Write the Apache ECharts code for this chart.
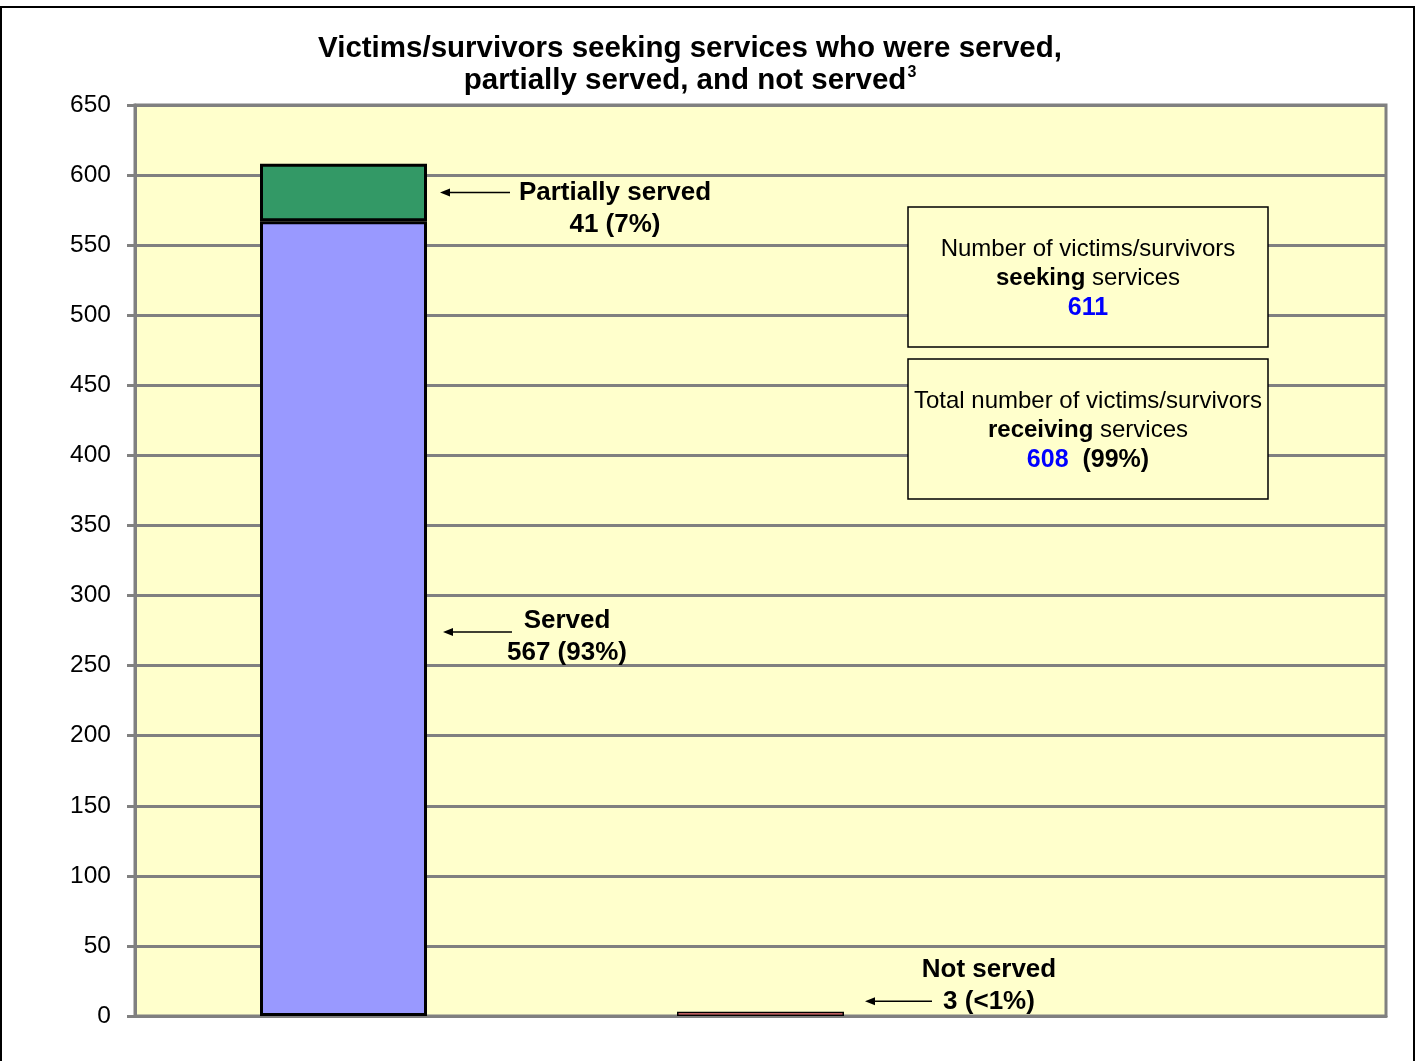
<!DOCTYPE html>
<html>
<head>
<meta charset="utf-8">
<script src="https://cdn.jsdelivr.net/npm/echarts@6/dist/echarts.min.js"></script>
<style>
  html, body { margin: 0; padding: 0; background: #fff; }
  #chart { width: 1416px; height: 1061px; }
</style>
</head>
<body>
<div id="chart"></div>
<script>
// categories on the x axis (third slot is empty, like the original)
const categories = ['Seeking services', 'Not served', ''];
const servedValues = [567, '-', '-'];
const partialValues = [41, '-', '-'];
const notServedValues = ['-', 3, '-'];

const yMin = 0;
const yMax = 650;
const yStep = 50;

// callouts: category index, value the arrow points at, two text lines
const noteCats = [0, 0, 1];
const noteValues = [587.5, 274, 10.5];
const noteLines = [
  ['Partially served', '41 (7%)'],
  ['Served', '567 (93%)'],
  ['Not served', '3 (<1%)']
];

const seekingTotal = 611;
const receivingTotal = 608;
const receivingPct = '99%';

const FONT = '"Liberation Sans", Arial, sans-serif';
const BAR_W = 167;

const chart = echarts.init(document.getElementById('chart'));

const barBorder = { borderColor: '#000', borderWidth: 3 };

var option = {
  animation: false,
  backgroundColor: '#fff',
  title: {
    text: 'Victims/survivors seeking services who were served,\npartially served, and not served{sup|3}',
    left: 690,
    textAlign: 'center',
    top: 33,
    padding: 0,
    textStyle: {
      fontFamily: FONT,
      fontSize: 29.5,
      fontWeight: 'bold',
      color: '#000',
      lineHeight: 32,
      rich: {
        sup: {
          fontFamily: FONT,
          fontSize: 16,
          fontWeight: 'bold',
          color: '#000',
          verticalAlign: 'top',
          padding: [0, 0, 10, 1]
        }
      }
    }
  },
  grid: {
    left: 135,
    right: 30,
    top: 105,
    bottom: 45,
    show: true,
    backgroundColor: '#FFFFCC',
    borderColor: '#808080',
    borderWidth: 3
  },
  xAxis: {
    type: 'category',
    data: categories,
    axisLine: { show: true, lineStyle: { color: '#808080', width: 3 } },
    axisTick: { show: false },
    axisLabel: { show: false },
    splitLine: { show: false }
  },
  yAxis: {
    type: 'value',
    min: yMin,
    max: yMax,
    interval: yStep,
    axisLine: { show: true, lineStyle: { color: '#808080', width: 3 } },
    axisTick: { show: true, length: 8, lineStyle: { color: '#808080', width: 3 } },
    axisLabel: { fontFamily: FONT, fontSize: 24.5, color: '#000', margin: 24 },
    splitLine: { show: true, lineStyle: { color: '#808080', width: 3 } }
  },
  series: [
    {
      name: 'Served',
      type: 'bar',
      stack: 'all',
      barWidth: BAR_W,
      data: servedValues,
      itemStyle: Object.assign({ color: '#9999FF' }, barBorder)
    },
    {
      name: 'Partially served',
      type: 'bar',
      stack: 'all',
      barWidth: BAR_W,
      data: partialValues,
      itemStyle: Object.assign({ color: '#339966' }, barBorder)
    },
    {
      name: 'Not served',
      type: 'bar',
      stack: 'all',
      barWidth: BAR_W,
      data: notServedValues,
      itemStyle: { color: '#FF8080', borderColor: '#000', borderWidth: 1.5 }
    }
  ]
};
chart.setOption(option);

// arrow gap from bar edge, arrow length, text offsets relative to arrow end
const noteGap = [13, 16, 21];
const noteLen = [70, 69, 67];
const noteDx = [105, 55, 57];
const noteDy = [0, -11, -31];

function arrow(x1, x2, y) {
  return [
    { type: 'line', shape: { x1: x1 + 6, y1: y, x2: x2, y2: y }, style: { stroke: '#000', lineWidth: 1.5 }, z: 10 },
    { type: 'polygon', shape: { points: [[x1, y], [x1 + 10, y - 4], [x1 + 10, y + 4]] }, style: { fill: '#000' }, z: 10 }
  ];
}

const gfx = [];
// outer frame of the picture
gfx.push({ type: 'rect', shape: { x: 1, y: 7, width: 1413, height: 1070 }, style: { fill: null, stroke: '#000', lineWidth: 2 }, z: 20, silent: true });

for (let i = 0; i < noteValues.length; i++) {
  const p = chart.convertToPixel({ gridIndex: 0 }, [noteCats[i], noteValues[i]]);
  const ax1 = p[0] + BAR_W / 2 + noteGap[i];
  const ax2 = ax1 + noteLen[i];
  gfx.push(...arrow(ax1, ax2, p[1]));
  gfx.push({
    type: 'text',
    z: 10,
    style: {
      text: noteLines[i].join('\n'),
      x: ax2 + noteDx[i],
      y: p[1] + noteDy[i] - 16,
      align: 'center',
      verticalAlign: 'top',
      font: 'bold 26px ' + FONT,
      lineHeight: 32,
      fill: '#000'
    }
  });
}

// the two info boxes on the right
const boxX = 908, boxW = 360, boxH = 140;
const boxTops = [207, 359];
const boxRich = {
  n: { fontFamily: FONT, fontSize: 24, fill: '#000', lineHeight: 29 },
  b: { fontFamily: FONT, fontSize: 24, fontWeight: 'bold', fill: '#000', lineHeight: 29 },
  blue: { fontFamily: FONT, fontSize: 25, fontWeight: 'bold', fill: '#0000FF', lineHeight: 31 },
  bb: { fontFamily: FONT, fontSize: 25, fontWeight: 'bold', fill: '#000', lineHeight: 31 }
};
const boxTexts = [
  '{n|Number of victims/survivors}\n{b|seeking}{n| services}\n{blue|' + seekingTotal + '}',
  '{n|Total number of victims/survivors}\n{b|receiving}{n| services}\n{blue|' + receivingTotal + '}{bb|  (' + receivingPct + ')}'
];
for (let i = 0; i < boxTops.length; i++) {
  gfx.push({ type: 'rect', z: 12, shape: { x: boxX, y: boxTops[i], width: boxW, height: boxH }, style: { fill: '#FFFFCC', stroke: '#000', lineWidth: 1.5 } });
  gfx.push({
    type: 'text',
    z: 13,
    style: {
      text: boxTexts[i],
      rich: boxRich,
      x: boxX + boxW / 2,
      y: boxTops[i] + boxH / 2 + 2,
      align: 'center',
      verticalAlign: 'middle'
    }
  });
}

chart.setOption({ graphic: gfx });
</script>
</body>
</html>
